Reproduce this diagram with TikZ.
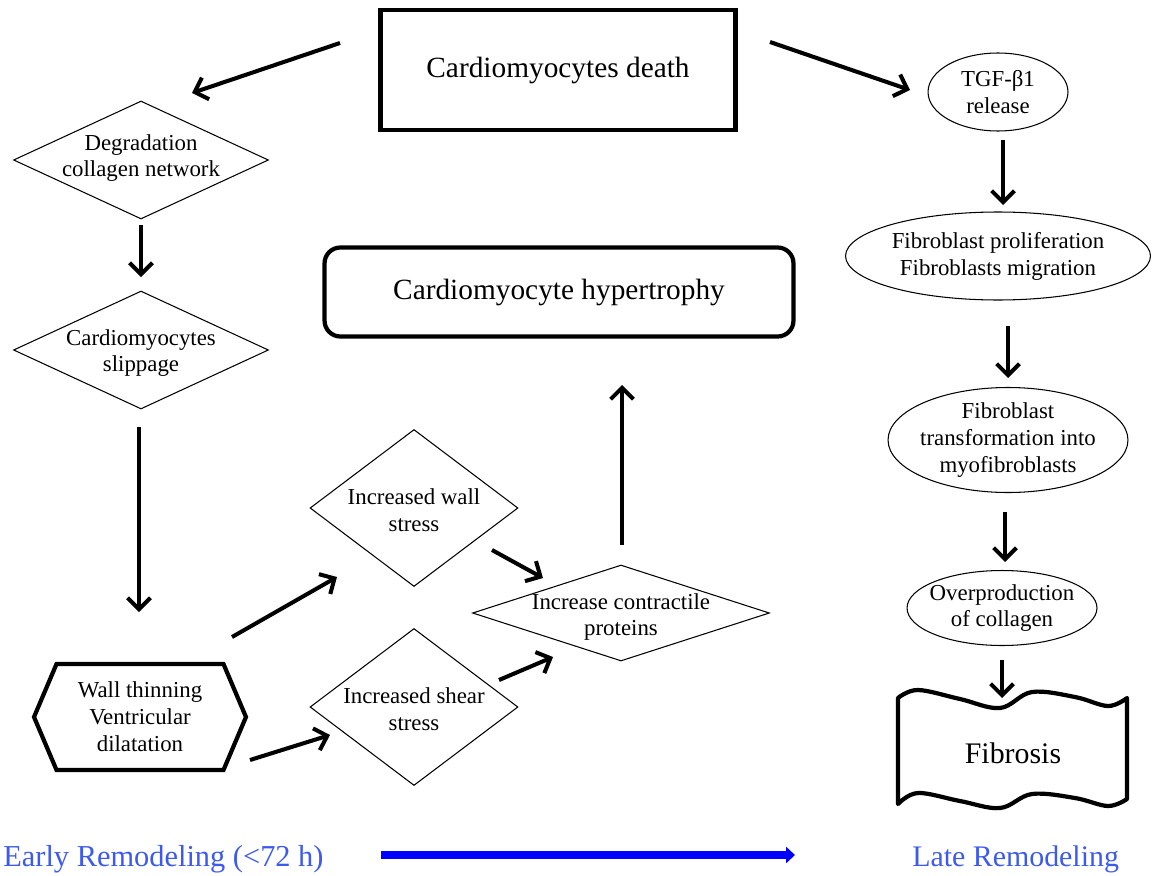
\documentclass[tikz,border=0pt]{standalone}
\usepackage{fontspec}
\setmainfont{Liberation Serif}
\usetikzlibrary{calc,shapes.geometric,shapes.symbols,arrows.meta}
\definecolor{remblue}{RGB}{60,90,240}

\begin{document}
\begin{tikzpicture}[x=0.02cm, y=-0.02cm,
  arr/.style={line width=2.3pt, -{Straight Barb[length=6.5pt,width=13pt]}},
  bold/.style={draw, line width=2.4pt},
  dia/.style={diamond, draw, line width=0.6pt},
  ell/.style={ellipse, draw, line width=0.6pt},
  lbl/.style={align=center, font=\fontsize{13}{15.3}\selectfont},
  big/.style={font=\fontsize{16.7}{20}\selectfont}]
  \useasboundingbox (0,0) rectangle (1155,875);

  % top boxes
  \node[bold, big, minimum width=7.1cm, minimum height=2.4cm] (death) at (558,70) {Cardiomyocytes death};
  \node[bold, big, rounded corners=9pt, minimum width=9.38cm, minimum height=1.78cm] (hyp) at (559,292) {Cardiomyocyte hypertrophy};

  % early branch
  \node[dia, minimum width=5.1cm, minimum height=2.36cm] (deg) at (141,160) {};
  \node[dia, minimum width=5.1cm, minimum height=2.36cm] (slip) at (141,350) {};
  \node[bold, lbl, signal, signal to=west and east, signal pointer angle=134,
        minimum width=4.24cm, minimum height=2.12cm] (hex) at (140,717) {Wall thinning\\Ventricular\\dilatation};
  \node[dia, minimum width=4.16cm, minimum height=3.14cm] (wall) at (414,508) {};
  \node[dia, minimum width=4.16cm, minimum height=3.14cm] (shear) at (414,707) {};
  \node[dia, minimum width=5.94cm, minimum height=1.92cm] (contr) at (621,613) {};

  \node[lbl] at ($(deg)+(0,-2)$) {Degradation\\collagen network};
  \node[lbl] at ($(slip)+(0,3)$) {Cardiomyocytes\\slippage};
  \node[lbl] at ($(wall)+(0,2)$) {Increased wall\\stress};
  \node[lbl] at ($(shear)+(0,2)$) {Increased shear\\stress};
  \node[lbl] at ($(contr)+(0,4)$) {Increase contractile\\proteins};

  % late branch
  \node[ell, minimum width=2.8cm, minimum height=1.56cm] (tgf) at (998,92) {};
  \node[ell, minimum width=6.1cm, minimum height=1.76cm] (fprol) at (998,256) {};
  \node[ell, minimum width=4.8cm, minimum height=2.1cm] (ftrans) at (1008,440) {};
  \node[ell, minimum width=3.8cm, minimum height=1.5cm] (over) at (1002,608) {};

  \node[lbl] at (tgf) {TGF-β1\\release};
  \node[lbl] at (fprol) {Fibroblast proliferation\\Fibroblasts migration};
  \node[lbl] at (ftrans) {Fibroblast\\transformation into\\myofibroblasts};
  \node[lbl] at (over) {Overproduction\\of collagen};

  % wavy fibrosis sheet
  \draw[line width=2.4pt, line join=round]
    plot[smooth, tension=0.6] coordinates {(898,698) (918,690) (960,699) (1000,708) (1032,692) (1075,697) (1108,706) (1127,698)}
    -- plot[smooth, tension=0.6] coordinates {(1127,799) (1108,806) (1075,798) (1032,794) (1000,808) (960,801) (918,793) (898,804)}
    -- cycle;
  \node[font=\fontsize{17}{20}\selectfont] (fib) at (1013,753) {Fibrosis};

  % arrows
  \draw[arr] ($(death)+(-218,-27)$) -- ($(deg)+(51,-67)$);
  \draw[arr] ($(death)+(212,-28)$) -- ($(tgf)+(-88,-2)$);
  \draw[arr] ($(deg)+(0,65)$) -- ($(slip)+(0,-73)$);
  \draw[arr] ($(slip)+(-2,77)$) -- ($(hex)+(-1,-105)$);
  \draw[arr] ($(hex)+(92,-80)$) -- ($(wall)+(-77,69)$);
  \draw[arr] ($(hex)+(110,43)$) -- ($(shear)+(-84,28)$);
  \draw[arr] ($(wall)+(78,42)$) -- ($(contr)+(-78,-35)$);
  \draw[arr] ($(shear)+(85,-27)$) -- ($(contr)+(-68,44)$);
  \draw[arr] ($(contr)+(1,-68)$) -- ($(hyp)+(63,93)$);
  \draw[arr] ($(tgf)+(5,48)$) -- ($(fprol)+(5,-51)$);
  \draw[arr] ($(fprol)+(10,70)$) -- ($(ftrans)+(0,-62)$);
  \draw[arr] ($(ftrans)+(-3,72)$) -- ($(over)+(3,-46)$);
  \draw[arr] ($(over)+(0,52)$) -- ($(fib)+(-11,-55)$);

  % time line
  \node[anchor=west, inner sep=0pt, text=remblue, font=\fontsize{17.3}{20}\selectfont] (early) at (3,859) {Early Remodeling (<72 h)};
  \node[anchor=west, inner sep=0pt, text=remblue, font=\fontsize{17}{20}\selectfont] (late) at (912,859) {Late Remodeling};
  \draw[blue, line width=4pt, -{Triangle[length=5pt,width=9pt]}]
    ($(early.east)+(57,-4)$) -- ($(late.west)+(-117,-4)$);
\end{tikzpicture}
\end{document}
